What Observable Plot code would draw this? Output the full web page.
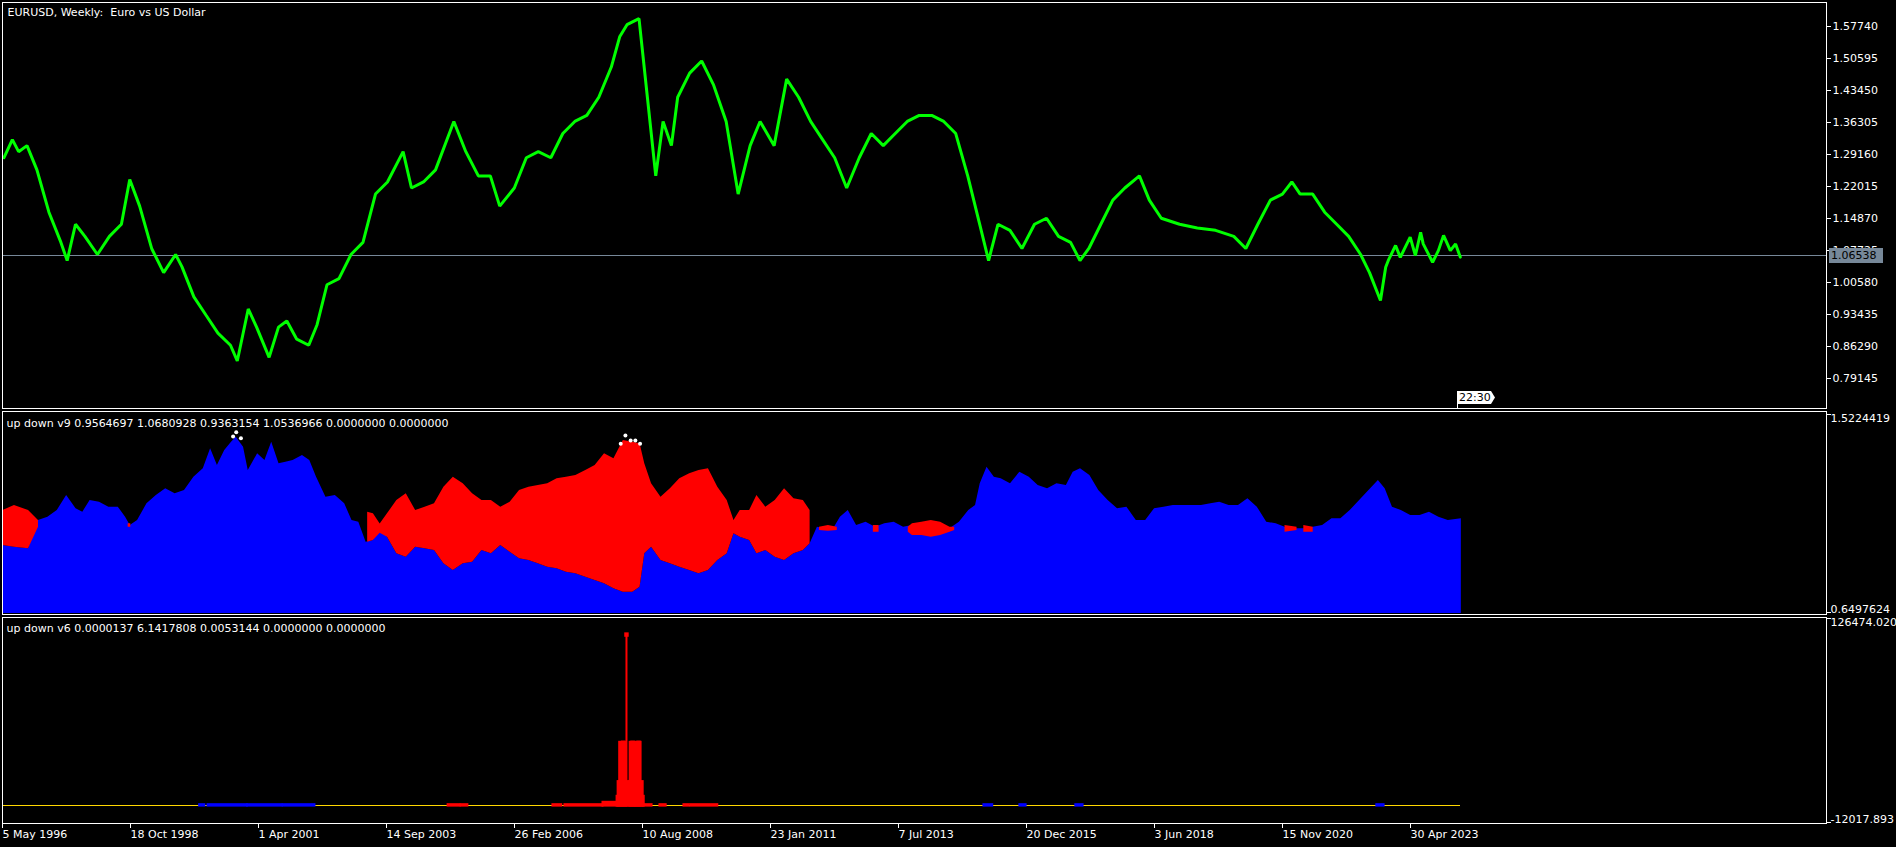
<!DOCTYPE html>
<html>
<head>
<meta charset="utf-8">
<script src="https://cdn.jsdelivr.net/npm/d3@7"></script>
<script src="https://cdn.jsdelivr.net/npm/@observablehq/plot@0.6"></script>
<style>
  html, body { margin: 0; padding: 0; background: #000; }
  #chart { position: relative; width: 1896px; height: 847px; background: #000; overflow: hidden; }
  #chart svg { position: absolute; left: 0; }
  #chart svg text { white-space: pre; }
</style>
</head>
<body>
<div id="chart"></div>
<script>
// ---------------- DATA ----------------
const symbolTitle = "EURUSD, Weekly:  Euro vs US Dollar";
const ud9Title = "up down v9 0.9564697 1.0680928 0.9363154 1.0536966 0.0000000 0.0000000";
const ud6Title = "up down v6 0.0000137 6.1417808 0.0053144 0.0000000 0.0000000";

const dateTickLabels = ["5 May 1996","18 Oct 1998","1 Apr 2001","14 Sep 2003","26 Feb 2006","10 Aug 2008",
  "23 Jan 2011","7 Jul 2013","20 Dec 2015","3 Jun 2018","15 Nov 2020","30 Apr 2023"];
const priceTicks = [1.57740,1.50595,1.43450,1.36305,1.29160,1.22015,1.14870,1.07725,1.00580,0.93435,0.86290,0.79145];
const lastPrice = 1.06538;
const lastTime = "22:30";
const ud9Ticks = [1.5224419, 0.6497624];
const ud6Ticks = [126474.020, -12017.893];

// weekly EURUSD (time in decimal years)
const priceYear = [1996.37,1996.53,1996.65,1996.81,1997.00,1997.23,1997.46,1997.58,1997.74,1997.92,1998.16,1998.39,1998.62,1998.78,1998.97,1999.20,1999.43,1999.66,1999.78,2000.01,2000.24,2000.47,2000.71,2000.84,2001.05,2001.21,2001.45,2001.63,2001.79,2001.98,2002.21,2002.37,2002.56,2002.79,2003.02,2003.25,2003.49,2003.72,2004.02,2004.18,2004.41,2004.64,2004.99,2005.22,2005.46,2005.69,2005.87,2006.15,2006.38,2006.61,2006.85,2007.08,2007.31,2007.54,2007.77,2008.01,2008.17,2008.31,2008.54,2008.70,2008.86,2009.00,2009.16,2009.28,2009.51,2009.74,2009.97,2010.21,2010.44,2010.67,2010.86,2011.13,2011.37,2011.60,2011.83,2012.06,2012.29,2012.52,2012.76,2012.99,2013.22,2013.45,2013.68,2013.91,2014.15,2014.38,2014.61,2014.84,2015.07,2015.24,2015.42,2015.65,2015.88,2016.12,2016.35,2016.58,2016.81,2016.99,2017.16,2017.39,2017.62,2017.85,2018.13,2018.32,2018.55,2018.90,2019.24,2019.59,2019.94,2020.17,2020.40,2020.64,2020.87,2021.05,2021.21,2021.45,2021.68,2021.91,2022.14,2022.37,2022.54,2022.75,2022.85,2022.90,2023.04,2023.13,2023.32,2023.42,2023.52,2023.57,2023.75,2023.86,2023.96,2024.09,2024.19,2024.28];
const priceValue = [1.2844,1.3249,1.2979,1.3114,1.2573,1.1628,1.0953,1.0548,1.1358,1.1088,1.0683,1.1088,1.1358,1.2357,1.1763,1.0818,1.0278,1.0683,1.0413,0.9738,0.9332,0.8927,0.8657,0.8306,0.9467,0.9062,0.8387,0.9062,0.9197,0.8792,0.8657,0.9116,1.0008,1.0143,1.0683,1.0953,1.2033,1.2303,1.2979,1.2168,1.2303,1.2573,1.3654,1.2979,1.2438,1.2438,1.1763,1.2168,1.2844,1.2979,1.2844,1.3384,1.3654,1.3789,1.4194,1.4869,1.5544,1.5815,1.5950,1.4194,1.2438,1.3654,1.3114,1.4194,1.4734,1.5004,1.4464,1.3654,1.2033,1.3114,1.3654,1.3114,1.4599,1.4194,1.3654,1.3249,1.2844,1.2168,1.2844,1.3384,1.3114,1.3384,1.3654,1.3789,1.3789,1.3654,1.3384,1.2438,1.1358,1.0548,1.1358,1.1223,1.0818,1.1358,1.1493,1.1088,1.0953,1.0548,1.0818,1.1358,1.1898,1.2168,1.2438,1.1898,1.1493,1.1358,1.1277,1.1223,1.1088,1.0818,1.1358,1.1898,1.2033,1.2303,1.2033,1.2033,1.1628,1.1358,1.1088,1.0683,1.0278,0.9656,1.0400,1.0550,1.0885,1.0620,1.1070,1.0660,1.1180,1.0920,1.0510,1.0770,1.1110,1.0770,1.0920,1.0625];

// "up down v9": blue histogram top
const ud9Year = [1996.35,1996.57,1996.84,1997.03,1997.21,1997.39,1997.57,1997.75,1997.88,1998.02,1998.20,1998.38,1998.56,1998.70,1998.79,1998.93,1999.11,1999.29,1999.47,1999.65,1999.83,2000.01,2000.19,2000.33,2000.46,2000.60,2000.73,2000.82,2000.96,2001.05,2001.23,2001.37,2001.50,2001.64,2001.77,2001.91,2002.09,2002.23,2002.36,2002.54,2002.72,2002.90,2003.04,2003.17,2003.31,2003.45,2003.58,2003.72,2003.90,2004.08,2004.26,2004.44,2004.62,2004.80,2004.98,2005.17,2005.35,2005.53,2005.71,2005.89,2006.07,2006.25,2006.43,2006.61,2006.79,2006.97,2007.15,2007.33,2007.52,2007.70,2007.88,2008.06,2008.24,2008.42,2008.56,2008.65,2008.78,2008.96,2009.14,2009.32,2009.51,2009.69,2009.87,2010.05,2010.23,2010.36,2010.48,2010.66,2010.80,2010.97,2011.15,2011.33,2011.51,2011.69,2011.82,2011.96,2012.09,2012.27,2012.40,2012.55,2012.71,2012.89,2013.07,2013.25,2013.43,2013.61,2013.78,2013.96,2014.14,2014.32,2014.50,2014.68,2014.86,2014.99,2015.08,2015.21,2015.35,2015.48,2015.66,2015.84,2016.02,2016.19,2016.37,2016.55,2016.73,2016.86,2017.00,2017.18,2017.35,2017.53,2017.71,2017.89,2018.07,2018.25,2018.42,2018.60,2018.78,2018.96,2019.14,2019.32,2019.50,2019.67,2019.85,2020.03,2020.21,2020.39,2020.57,2020.75,2020.92,2021.10,2021.28,2021.46,2021.64,2021.82,2021.99,2022.17,2022.35,2022.53,2022.71,2022.84,2022.98,2023.15,2023.33,2023.51,2023.69,2023.87,2024.05,2024.30];
const ud9Blue = [0.9464,0.9391,0.9319,1.0555,1.0701,1.0991,1.1646,1.1064,1.0919,1.1428,1.1355,1.1137,1.1137,1.0701,1.0337,1.0555,1.1282,1.1646,1.1937,1.1719,1.1864,1.2446,1.2810,1.3682,1.2955,1.3610,1.3973,1.4191,1.3755,1.2737,1.3464,1.3173,1.3973,1.3028,1.3101,1.3173,1.3391,1.3173,1.2446,1.1573,1.1646,1.1282,1.0555,1.0482,0.9610,0.9682,1.0264,0.9828,0.9101,0.8955,0.9391,0.9319,0.9246,0.8664,0.8373,0.8664,0.8737,0.9246,0.9101,0.9464,0.9173,0.8882,0.8810,0.8664,0.8519,0.8446,0.8300,0.8228,0.8083,0.7937,0.7792,0.7573,0.7428,0.7428,0.7646,0.9101,0.9391,0.8810,0.8664,0.8519,0.8373,0.8228,0.8373,0.8810,0.9101,0.9973,0.9828,0.9682,0.9101,0.9246,0.8955,0.8810,0.9101,0.9246,0.9537,1.0264,1.0191,1.0191,1.0701,1.0991,1.0337,1.0482,1.0264,1.0410,1.0482,1.0264,1.0337,1.0410,1.0482,1.0410,1.0191,1.0482,1.0991,1.1210,1.2155,1.2882,1.2446,1.2373,1.2155,1.2664,1.2446,1.2082,1.1937,1.2155,1.2082,1.2664,1.2810,1.2519,1.1864,1.1428,1.1064,1.1137,1.0555,1.0555,1.1064,1.1137,1.1210,1.1210,1.1210,1.1210,1.1282,1.1355,1.1210,1.1210,1.1501,1.1137,1.0482,1.0410,1.0264,1.0191,1.0191,1.0264,1.0337,1.0628,1.0628,1.0991,1.1428,1.1864,1.2301,1.1937,1.1137,1.0991,1.0773,1.0773,1.0919,1.0701,1.0555,1.0628];

// "up down v9": red band (null = no band)
const ud9RedYear = [1996.35,1996.57,1996.84,1997.03,1997.5,1998.75,1998.80,1999.0,2003.34,2003.45,2003.58,2003.72,2003.90,2004.08,2004.26,2004.44,2004.62,2004.80,2004.98,2005.17,2005.35,2005.53,2005.71,2005.89,2006.07,2006.25,2006.43,2006.61,2006.79,2006.97,2007.15,2007.33,2007.52,2007.70,2007.88,2008.06,2008.24,2008.42,2008.56,2008.65,2008.78,2008.96,2009.14,2009.32,2009.51,2009.69,2009.87,2010.05,2010.23,2010.36,2010.48,2010.66,2010.80,2010.97,2011.15,2011.33,2011.51,2011.69,2011.82,2011.90,2012.00,2012.17,2012.34,2012.60,2013.03,2013.14,2013.40,2013.70,2013.78,2013.96,2014.14,2014.32,2014.50,2014.59,2015.00,2020.92,2021.15,2021.20,2021.28,2021.46];
const ud9RedHi = [1.0991,1.1210,1.0991,1.0555,null,1.0410,1.0410,null,1.0919,1.0846,1.0400,1.0846,1.1428,1.1719,1.0991,1.1137,1.1282,1.2010,1.2446,1.2155,1.1719,1.1428,1.1428,1.1137,1.1355,1.1864,1.2010,1.2082,1.2155,1.2373,1.2446,1.2519,1.2737,1.2955,1.3464,1.3246,1.4046,1.3973,1.3900,1.3028,1.2155,1.1573,1.1937,1.2373,1.2591,1.2737,1.2810,1.2010,1.1428,1.0555,1.0991,1.0991,1.1646,1.1137,1.1428,1.1937,1.1501,1.1428,1.0991,null,1.0264,1.0337,1.0264,null,1.0337,1.0337,null,1.0264,1.0410,1.0482,1.0555,1.0482,1.0264,1.0264,null,1.0337,1.0264,null,1.0337,1.0264];
const ud9RedLo = [0.9464,0.9391,0.9319,1.0264,null,1.0264,1.0264,null,0.9610,0.9682,1.0000,0.9828,0.9101,0.8955,0.9391,0.9319,0.9246,0.8664,0.8373,0.8664,0.8737,0.9246,0.9101,0.9464,0.9173,0.8882,0.8810,0.8664,0.8519,0.8446,0.8300,0.8228,0.8083,0.7937,0.7792,0.7573,0.7428,0.7428,0.7646,0.9101,0.9391,0.8810,0.8664,0.8519,0.8373,0.8228,0.8373,0.8810,0.9101,0.9973,0.9828,0.9682,0.9101,0.9246,0.8955,0.8810,0.9101,0.9246,0.9537,null,1.0119,1.0090,1.0119,null,1.0046,1.0046,null,1.0046,0.9901,0.9901,0.9828,0.9901,1.0046,1.0119,null,1.0046,1.0119,null,1.0046,1.0046];

// "up down v9": white markers
const ud9MarkYear = [2000.76,2000.82,2000.91,2008.19,2008.28,2008.38,2008.47,2008.56];
const ud9MarkValue = [1.4221,1.4410,1.4148,1.3900,1.4264,1.4046,1.4046,1.3900];

// "up down v6": histogram segments
const ud6Start = [2000.13,2000.29,2001.05,2001.73,2004.89,2005.14,2006.90,2007.13,2007.86,2008.13,2008.15,2008.18,2008.30,2008.38,2008.49,2008.63,2008.95,2009.41,2009.54,2015.16,2015.85,2016.92,2022.69];
const ud6End   = [2000.21,2001.02,2001.69,2002.32,2005.10,2005.25,2007.05,2007.84,2008.13,2008.63,2008.61,2008.29,2008.30,2008.45,2008.57,2008.78,2009.05,2009.49,2010.04,2015.31,2015.95,2017.04,2022.81];
const ud6Value = [300,300,300,300,300,300,300,300,1900,5931,15813,42234,115000,42234,42234,300,300,300,300,300,300,300,300];
const ud6Dir   = ["up","up","up","up","down","down","down","down","down","down","down","down","down","down","down","down","down","down","down","up","up","up","up"];

// ---------------- BUILD ----------------
const toDate = Y => { const y = Math.floor(Y); const s = Date.UTC(y,0,1), e = Date.UTC(y+1,0,1); return new Date(s + (Y - y) * (e - s)); };
const parseTick = d3.utcParse("%d %b %Y");
const dateTicks = dateTickLabels.map(parseTick);
const xStart = dateTicks[0];
const weekMs = 7 * 864e5;
const xEnd = new Date(+xStart + 1824 * weekMs);
const xDomain = [xStart, xEnd];

const price = priceYear.map((y, i) => ({date: toDate(y), v: priceValue[i]}));
const blue = ud9Year.map((y, i) => ({date: toDate(y), v: ud9Blue[i]}));
const red = ud9RedYear.map((y, i) => ({date: toDate(y), hi: ud9RedHi[i] == null ? NaN : ud9RedHi[i], lo: ud9RedLo[i] == null ? NaN : ud9RedLo[i]}));
const marks9 = ud9MarkYear.map((y, i) => ({date: toDate(y), v: ud9MarkValue[i]}));
const ud6 = ud6Start.map((s, i) => ({start: toDate(s), end: toDate(ud6End[i]), value: ud6Value[i], dir: ud6Dir[i]}));
const ud6Bars = ud6.filter(d => +d.end > +d.start);
const ud6Spikes = ud6.filter(d => +d.end <= +d.start);
const lastDate = price[price.length - 1].date;

const W = 1896, MR = 70, ML = 2;
const FONT = "'DejaVu Sans', sans-serif";
const font = {fontFamily: FONT, fontSize: "11px", background: "transparent", color: "white", overflow: "visible"};
const container = document.getElementById("chart");

// ---- Panel 1: price ----
const p1 = Plot.plot({
  width: W, height: 410, marginTop: 2, marginBottom: 2, marginLeft: ML, marginRight: MR,
  style: font,
  x: {type: "utc", domain: xDomain, axis: null},
  y: {domain: [0.72447, 1.63099], axis: null},
  marks: [
    Plot.ruleY([lastPrice], {stroke: "#778899", strokeWidth: 1, shapeRendering: "crispEdges"}),
    Plot.line(price, {x: "date", y: "v", stroke: "#00ff00", strokeWidth: 3, strokeLinejoin: "miter", clip: true}),
    Plot.frame({stroke: "white"}),
    Plot.axisY({anchor: "right", ticks: priceTicks, tickFormat: d => d.toFixed(5), tickSize: 4, tickPadding: 2, label: null, stroke: "white", fill: "white"}),
    Plot.text([symbolTitle], {frameAnchor: "top-left", dx: 5, dy: 10, lineAnchor: "middle", textAnchor: "start", fill: "white"})
  ]
});
p1.style.top = "0px";
container.appendChild(p1);
{
  const s = d3.select(p1);
  const yv = p1.scale("y").apply(lastPrice);
  const xr = W - MR;
  s.append("rect").attr("x", xr + 3).attr("y", Math.round(yv) - 7).attr("width", 54).attr("height", 15).attr("fill", "#778899");
  s.append("text").attr("x", xr + 5).attr("y", Math.round(yv) + 0.5).attr("dominant-baseline", "central").attr("text-anchor", "start").attr("fill", "#000")
    .style("font-family", FONT).style("font-size", "11px").text(lastPrice.toFixed(5));
  const xl = Math.round(p1.scale("x").apply(lastDate)) - 3;
  const yb = 410 - 2;
  s.append("line").attr("x1", xl + 0.5).attr("x2", xl + 0.5).attr("y1", yb - 4).attr("y2", yb).attr("stroke", "white");
  s.append("path").attr("d", `M${xl},${yb-17}H${xl+34}L${xl+38},${yb-10.5}L${xl+34},${yb-4}H${xl}Z`).attr("fill", "white");
  s.append("text").attr("x", xl + 2).attr("y", yb - 10.5).attr("dominant-baseline", "central").attr("text-anchor", "start").attr("fill", "#000")
    .style("font-family", FONT).style("font-size", "11px").text(lastTime);
}

// ---- Panel 2: up down v9 ----
const base9 = ud9Ticks[1];
const p2 = Plot.plot({
  width: W, height: 205, marginTop: 1, marginBottom: 1, marginLeft: ML, marginRight: MR,
  style: font,
  x: {type: "utc", domain: xDomain, axis: null},
  y: {domain: [ud9Ticks[1], ud9Ticks[0]], range: [203, 3], axis: null},
  marks: [
    Plot.areaY(blue, {x: "date", y1: () => base9, y2: "v", fill: "#0000ff", clip: true}),
    Plot.areaY(red, {x: "date", y1: "lo", y2: "hi", fill: "#ff0000", clip: true}),
    Plot.dot(marks9, {x: "date", y: "v", r: 2, fill: "white"}),
    Plot.frame({stroke: "white"}),
    Plot.axisY({anchor: "right", ticks: [ud9Ticks[0]], tickFormat: d => d.toFixed(7), tickSize: 4, tickPadding: 0, lineAnchor: "top", dy: 1, label: null, stroke: "white", fill: "white"}),
    Plot.axisY({anchor: "right", ticks: [ud9Ticks[1]], tickFormat: d => d.toFixed(7), tickSize: 4, tickPadding: 0, lineAnchor: "bottom", dy: -1, label: null, stroke: "white", fill: "white"}),
    Plot.text([ud9Title], {frameAnchor: "top-left", dx: 4, dy: 12, lineAnchor: "middle", textAnchor: "start", fill: "white"})
  ]
});
p2.style.top = "410px";
container.appendChild(p2);

// ---- Panel 3: up down v6 ----
const p3 = Plot.plot({
  width: W, height: 232, marginTop: 2, marginBottom: 24, marginLeft: ML, marginRight: MR,
  style: font,
  x: {type: "utc", domain: xDomain},
  y: {domain: [ud6Ticks[1], ud6Ticks[0]]},
  color: {domain: ["up", "down"], range: ["#0000ff", "#ff0000"]},
  marks: [
    Plot.ruleY([0], {x1: () => xStart, x2: () => lastDate, stroke: "#ffd700", shapeRendering: "crispEdges"}),
    Plot.rect(ud6Bars, {x1: "start", x2: "end", y1: () => 0, y2: "value", fill: "dir", stroke: "dir", strokeWidth: 3, clip: true}),
    Plot.ruleX(ud6Spikes, {x: "start", y1: () => 0, y2: "value", stroke: "dir", strokeWidth: 2}),
    Plot.dot(ud6.filter(d => d.value > 10000), {x: d => new Date((+d.start + +d.end) / 2), y: "value", symbol: "square", r: 2.5, fill: "dir"}),
    Plot.frame({stroke: "white"}),
    Plot.axisY({anchor: "right", ticks: [ud6Ticks[0]], tickFormat: d => d.toFixed(3), tickSize: 4, tickPadding: 0, lineAnchor: "top", dy: 1, label: null, stroke: "white", fill: "white"}),
    Plot.axisY({anchor: "right", ticks: [ud6Ticks[1]], tickFormat: d => d.toFixed(3), tickSize: 4, tickPadding: 0, lineAnchor: "bottom", dy: -1, label: null, stroke: "white", fill: "white"}),
    Plot.axisX({anchor: "bottom", ticks: dateTicks, tickFormat: d3.utcFormat("%-d %b %Y"), tickSize: 5, tickPadding: 2, textAnchor: "start", label: null, stroke: "white", fill: "white"}),
    Plot.text([ud6Title], {frameAnchor: "top-left", dx: 4, dy: 11, lineAnchor: "middle", textAnchor: "start", fill: "white"})
  ]
});
p3.style.top = "615px";
container.appendChild(p3);
</script>
</body>
</html>
